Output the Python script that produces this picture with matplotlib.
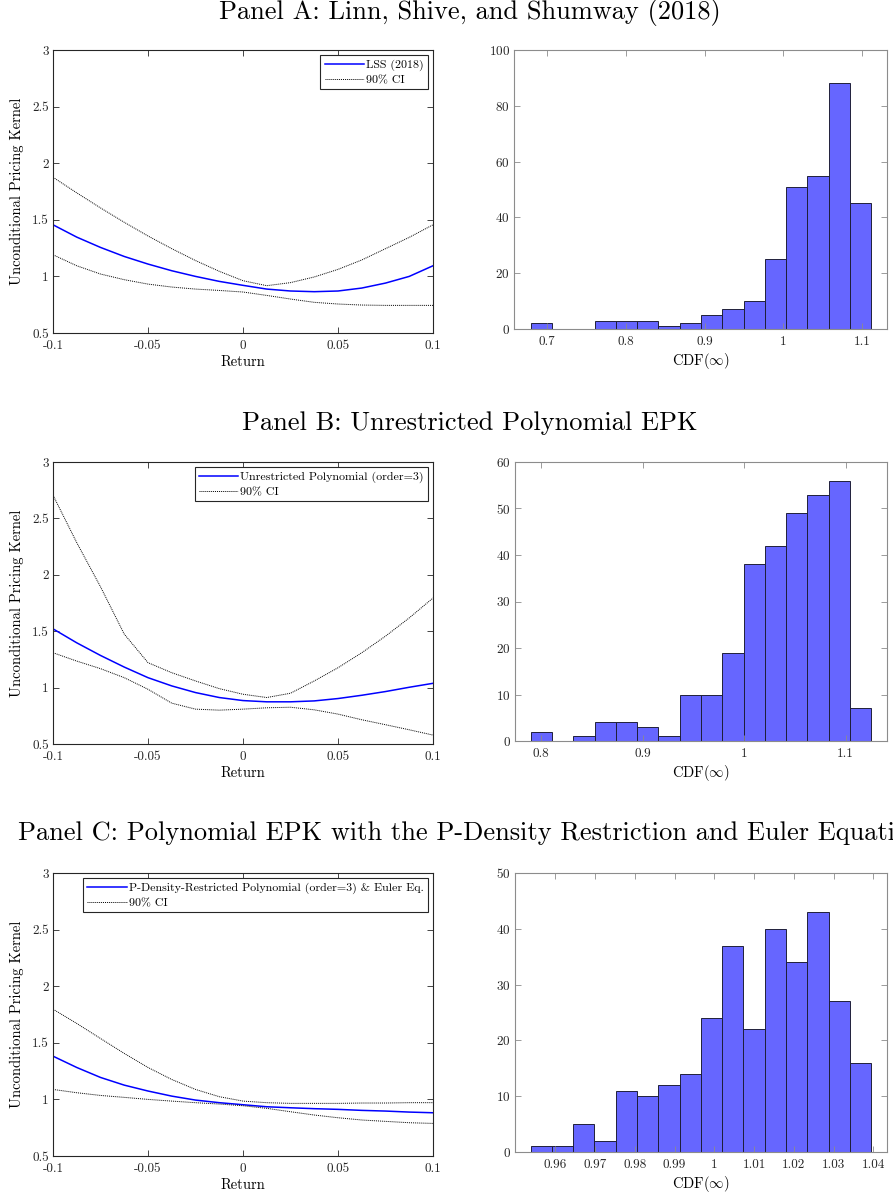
import matplotlib
matplotlib.use("Agg")
import matplotlib.pyplot as plt
import numpy as np

plt.rcParams["font.family"] = "serif"
plt.rcParams["font.serif"] = ["cmr10", "DejaVu Serif"]
plt.rcParams["mathtext.fontset"] = "cm"
plt.rcParams["axes.unicode_minus"] = False
plt.rcParams["axes.formatter.use_mathtext"] = True

# --- kernel curves on a 0.0125 return grid ---
ret = np.linspace(-0.1, 0.1, 17)

lss_mid = [1.456, 1.347, 1.256, 1.176, 1.109, 1.050, 1.000, 0.956, 0.921,
           0.888, 0.871, 0.865, 0.871, 0.897, 0.941, 1.000, 1.094]
lss_hi = [1.876, 1.738, 1.605, 1.478, 1.357, 1.245, 1.140, 1.045, 0.962,
          0.918, 0.945, 0.995, 1.062, 1.145, 1.245, 1.345, 1.456]
lss_lo = [1.191, 1.094, 1.021, 0.971, 0.932, 0.906, 0.888, 0.876, 0.862,
          0.832, 0.800, 0.771, 0.756, 0.747, 0.744, 0.744, 0.744]

unr_mid = [1.521, 1.397, 1.285, 1.182, 1.088, 1.015, 0.956, 0.912, 0.885,
           0.874, 0.874, 0.882, 0.903, 0.932, 0.965, 1.003, 1.038]
unr_hi = [2.706, 2.285, 1.894, 1.474, 1.221, 1.132, 1.059, 0.991, 0.941,
          0.912, 0.950, 1.059, 1.176, 1.309, 1.456, 1.618, 1.794]
unr_lo = [1.309, 1.235, 1.168, 1.088, 0.985, 0.862, 0.809, 0.800, 0.809,
          0.821, 0.826, 0.803, 0.765, 0.715, 0.671, 0.626, 0.579]

pdr_mid = [1.382, 1.282, 1.194, 1.126, 1.074, 1.029, 0.994, 0.971, 0.953,
           0.935, 0.926, 0.918, 0.912, 0.903, 0.897, 0.888, 0.882]
pdr_hi = [1.797, 1.671, 1.538, 1.406, 1.282, 1.176, 1.088, 1.024, 0.985,
          0.971, 0.965, 0.965, 0.965, 0.968, 0.968, 0.971, 0.971]
pdr_lo = [1.088, 1.059, 1.035, 1.018, 1.000, 0.985, 0.971, 0.959, 0.944,
          0.921, 0.891, 0.862, 0.838, 0.818, 0.806, 0.794, 0.788]

# --- CDF(inf) histograms: 16 bins each, first/last edge and counts ---
hist_a_range = (0.6797, 1.1114)
hist_a_counts = [2, 0, 0, 3, 3, 3, 1, 2, 5, 7, 10, 25, 51, 55, 88, 45]
hist_b_range = (0.7898, 1.1253)
hist_b_counts = [2, 0, 1, 4, 4, 3, 1, 10, 10, 19, 38, 42, 49, 53, 56, 7]
hist_c_range = (0.9538, 1.0394)
hist_c_counts = [1, 1, 5, 2, 11, 10, 12, 14, 24, 37, 22, 40, 34, 43, 27, 16]

titles = [
    "Panel A: Linn, Shive, and Shumway (2018)",
    "Panel B: Unrestricted Polynomial EPK",
    "Panel C: Polynomial EPK with the P-Density Restriction and Euler Equation",
]
legend_names = [
    "LSS (2018)",
    "Unrestricted Polynomial (order=3)",
    "P-Density-Restricted Polynomial (order=3) & Euler Eq.",
]

ret_ticks = [-0.1, -0.05, 0, 0.05, 0.1]
ret_labels = ["-0.1", "-0.05", "0", "0.05", "0.1"]
pk_ticks = [0.5, 1, 1.5, 2, 2.5, 3]
pk_labels = ["0.5", "1", "1.5", "2", "2.5", "3"]

hist_xticks = [
    [0.7, 0.8, 0.9, 1.0, 1.1],
    [0.8, 0.9, 1.0, 1.1],
    [0.96, 0.97, 0.98, 0.99, 1.0, 1.01, 1.02, 1.03, 1.04],
]
hist_xlabels = [
    ["0.7", "0.8", "0.9", "1", "1.1"],
    ["0.8", "0.9", "1", "1.1"],
    ["0.96", "0.97", "0.98", "0.99", "1", "1.01", "1.02", "1.03", "1.04"],
]
hist_xlim = [(0.6586, 1.1312), (0.7744, 1.1407), (0.9499, 1.0434)]
hist_ymax = [100, 60, 50]
hist_ystep = [20, 10, 10]

curves = [(lss_mid, lss_hi, lss_lo), (unr_mid, unr_hi, unr_lo),
          (pdr_mid, pdr_hi, pdr_lo)]
hists = [(hist_a_range, hist_a_counts), (hist_b_range, hist_b_counts),
         (hist_c_range, hist_c_counts)]

W, H = 893, 1195
fig = plt.figure(figsize=(W / 100, H / 100), dpi=100)

left_boxes = [(53, 50, 433, 333), (53, 462, 433, 744), (53, 873, 433, 1156)]
right_boxes = [(514, 50, 887, 329), (515, 462, 887, 741), (515, 873, 887, 1152)]
title_y = [13, 423, 833]


def add_box(b):
    l, t, r, bt = b
    return fig.add_axes([l / W, 1 - bt / H, (r - l) / W, (bt - t) / H])


def style_axes(ax, spine_col):
    for s in ax.spines.values():
        s.set_color(spine_col)
        s.set_linewidth(0.8)
    ax.tick_params(direction="in", length=4, width=0.6, color=spine_col,
                   top=True, right=True, labelsize=9.5, labelcolor="#262626")
    ax.tick_params(axis="x", pad=5)
    ax.tick_params(axis="y", pad=3)


for i in range(3):
    # panel C's title runs past the right edge in the reference as well
    fig.text(470 / W, 1 - title_y[i] / H, titles[i], ha="center",
             va="center", fontsize=19)

    # kernel panel
    ax = add_box(left_boxes[i])
    mid, hi, lo = curves[i]
    ax.plot(ret, mid, color="blue", lw=1.1, label=legend_names[i])
    ax.plot(ret, hi, color="black", lw=0.7, ls=(0, (1, 1)), label="90% CI")
    ax.plot(ret, lo, color="black", lw=0.7, ls=(0, (1, 1)))
    ax.set_xlim(-0.1, 0.1)
    ax.set_ylim(0.5, 3)
    ax.set_xticks(ret_ticks)
    ax.set_xticklabels(ret_labels)
    ax.set_yticks(pk_ticks)
    ax.set_yticklabels(pk_labels)
    ax.set_xlabel("Return", fontsize=10.5, labelpad=2)
    ax.set_ylabel("Unconditional Pricing Kernel", fontsize=10.5, labelpad=6)
    style_axes(ax, "#262626")
    leg = ax.legend(loc="upper right", fontsize=8.6, fancybox=False,
                    framealpha=1, edgecolor="#262626", borderaxespad=0.45,
                    handlelength=3.3, handletextpad=0.15, borderpad=0.35,
                    labelspacing=0.3)
    leg.get_frame().set_linewidth(0.8)

    # histogram panel
    ax = add_box(right_boxes[i])
    (lo_e, hi_e), counts = hists[i]
    edges = np.linspace(lo_e, hi_e, len(counts) + 1)
    ax.bar(edges[:-1], counts, width=np.diff(edges), align="edge",
           color=(0, 0, 1, 0.6), edgecolor="#20203a", linewidth=0.7)
    ax.set_xlim(*hist_xlim[i])
    ax.set_ylim(0, hist_ymax[i])
    ax.set_yticks(np.arange(0, hist_ymax[i] + 1, hist_ystep[i]))
    ax.set_xticks(hist_xticks[i])
    ax.set_xticklabels(hist_xlabels[i])
    ax.set_xlabel(r"CDF($\infty$)", fontsize=10.5, labelpad=2)
    style_axes(ax, "#8c8c8c")

fig.savefig("out.png", dpi=100)
